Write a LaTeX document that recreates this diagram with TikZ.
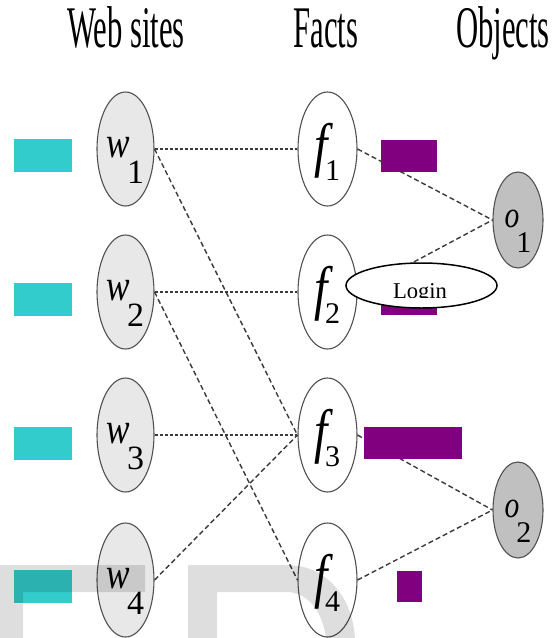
\documentclass[tikz,border=0pt]{standalone}
\usepackage{fontspec}
\usetikzlibrary{shapes.geometric}
\setmainfont{Liberation Serif}
\newfontfamily\headfont[FakeStretch=0.52]{Liberation Serif}
\newfontfamily\letfont[FakeStretch=0.8]{Liberation Serif}
\newfontfamily\digfont{Liberation Serif}
% letter, letter size, index digit, digit size, drop of the index
\newcommand{\varlbl}[5]{{\letfont\fontsize{#2}{#2}\selectfont\itshape #1}\kern-3pt\raisebox{-#5}{\digfont\fontsize{#4}{#4}\selectfont #3}}
\definecolor{tealbox}{HTML}{33CCCC}
\definecolor{plumbox}{HTML}{800080}
\definecolor{ringgray}{HTML}{505050}
\definecolor{edgegray}{HTML}{3A3A3A}
\definecolor{sitefill}{HTML}{E8E8E8}
\definecolor{objfill}{HTML}{C0C0C0}
\tikzset{
  head/.style={font=\headfont\fontsize{59}{59}\selectfont, inner sep=0, anchor=base},
  sitenode/.style={ellipse, draw=ringgray, fill=sitefill, line width=1.1pt,
    minimum width=57, minimum height=114, inner sep=0, text height=16pt, text depth=0pt},
  factnode/.style={ellipse, draw=ringgray, fill=white, line width=1.1pt,
    minimum width=59, minimum height=114, inner sep=0, text height=32pt, text depth=0pt},
  objnode/.style={ellipse, draw=ringgray, fill=objfill, line width=1.1pt,
    minimum width=50, minimum height=96, inner sep=0, text height=14pt, text depth=0pt},
  hedge/.style={draw=edgegray, line width=1.4pt, dash pattern=on 3pt off 2pt},
  dedge/.style={draw=edgegray, line width=1.4pt, dash pattern=on 5pt off 3pt},
  tealrect/.style={rectangle, fill=tealbox, inner sep=0, minimum width=58, minimum height=33},
  plumrect/.style={rectangle, fill=plumbox, inner sep=0, minimum height=32},
  loginshape/.style={ellipse, draw=black, fill=white, line width=1.5pt, inner sep=0,
    minimum width=151, minimum height=45},
  overlayshade/.style={fill=black, opacity=0.13}
}
\begin{document}
\begin{tikzpicture}[x=1pt, y=-1pt]
\useasboundingbox (0,0) rectangle (559,638);

% column headings
\node[head] (hsites) at (126,47) {Web sites};
\node[head] (hfacts) at (326,47) {Facts};
\node[head] (hobjs) at (503,47) {Objects};

% web sites
\node[sitenode] (w1) at (125.5,149) {\varlbl{w}{44}{1}{34}{26pt}};
\node[sitenode] (w2) at (125.5,292) {\varlbl{w}{44}{2}{34}{26pt}};
\node[sitenode] (w3) at (125.5,435) {\varlbl{w}{44}{3}{34}{26pt}};
\node[sitenode] (w4) at (125.5,580) {\varlbl{w}{44}{4}{34}{26pt}};

% facts
\node[factnode] (f1) at (327.5,149) {\varlbl{f}{60}{1}{30}{15pt}};
\node[factnode] (f2) at (327.5,292) {\varlbl{f}{60}{2}{30}{15pt}};
\node[factnode] (f3) at (327.5,435) {\varlbl{f}{60}{3}{30}{15pt}};
\node[factnode] (f4) at (327.5,580) {\varlbl{f}{60}{4}{30}{15pt}};

% objects
\node[objnode] (o1) at (518,220) {\varlbl{o}{37}{1}{30}{25pt}};
\node[objnode] (o2) at (518,510) {\varlbl{o}{37}{2}{30}{25pt}};

% links between sites and facts
\draw[hedge] (w1.east) -- (f1.west);
\draw[hedge] (w2.east) -- (f2.west);
\draw[hedge] (w3.east) -- (f3.west);
\draw[dedge] (w1.east) -- (f3.west);
\draw[dedge] (w2.east) -- (f4.west);
\draw[dedge] (w4.east) -- (f3.west);

% links between facts and objects
\draw[dedge] (f1.east) -- (o1.west);
\draw[dedge] (f2.east) -- (o1.west);
\draw[dedge] (f3.east) -- (o2.west);
\draw[dedge] (f4.east) -- (o2.west);

% trust bars of the sites
\node[tealrect] (t1) at (43,155.5) {};
\node[tealrect] (t2) at (43,299.5) {};
\node[tealrect] (t3) at (43,443.5) {};
\node[tealrect] (t4) at (43,586.5) {};

% confidence bars of the facts
\node[plumrect, minimum width=56] (p1) at (409,156) {};
\node[plumrect, minimum width=56] (p2) at (409,299) {};
\node[plumrect, minimum width=98] (p3) at (413,443) {};
\node[plumrect, minimum width=25, minimum height=31] (p4) at (409.5,586.5) {};

% login callout
\node[loginshape] (login) at (421.5,285.5) {};
\begin{scope}
  \clip (346,263) rectangle (497,297);
  \node[font=\fontsize{22.6}{22.6}\selectfont, inner sep=0, anchor=base] (logintext) at (420,298) {Login};
\end{scope}

% faint overlay letters
\fill[overlayshade] (0,565) -- (145,565) -- (145,592) -- (23,592) -- (23,638) -- (0,638) -- cycle;
\fill[overlayshade] (188,638) -- (188,565) -- (287,565)
  .. controls (325,565) and (352,595) .. (355,638) -- (326,638)
  .. controls (322,608) and (305,592) .. (287,592) -- (217,592) -- (217,638) -- cycle;
\end{tikzpicture}
\end{document}
